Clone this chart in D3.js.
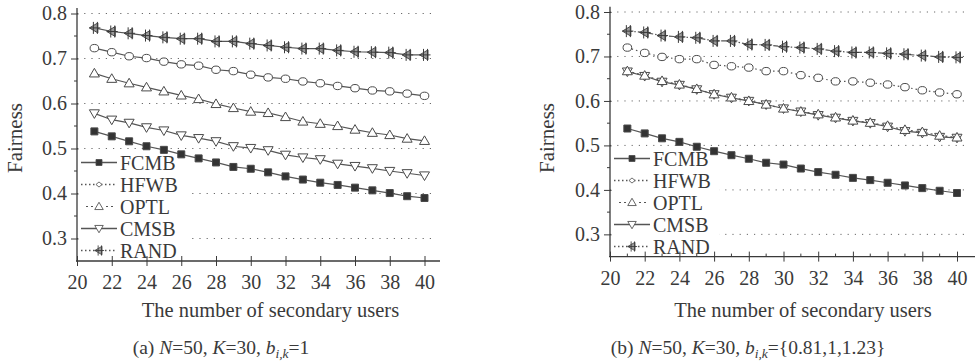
<!DOCTYPE html>
<html>
<head>
<meta charset="utf-8">
<script src="https://cdn.jsdelivr.net/npm/d3@7"></script>
<style>
  body { margin: 0; background: #fff; }
  svg { display: block; }
  text { font-family: "Liberation Serif", "Times New Roman", serif; fill: #3a3a3a; }
</style>
</head>
<body>
<svg id="chart" width="979" height="361"></svg>
<script>
// Number of secondary users on the horizontal axis
const users = [21, 22, 23, 24, 25, 26, 27, 28, 29, 30, 31, 32, 33, 34, 35, 36, 37, 38, 39, 40];
const xTickValues = [20, 22, 24, 26, 28, 30, 32, 34, 36, 38, 40];
const yTickValues = [0.3, 0.4, 0.5, 0.6, 0.7, 0.8];
const seriesNames = ["FCMB", "HFWB", "OPTL", "CMSB", "RAND"];

// (a) N=50, K=30, b_{i,k}=1
const fcmbA = [0.538, 0.527, 0.516, 0.505, 0.497, 0.487, 0.478, 0.469, 0.459, 0.455, 0.447, 0.438, 0.431, 0.424, 0.419, 0.413, 0.407, 0.401, 0.394, 0.390];
const hfwbA = [0.723, 0.714, 0.705, 0.701, 0.693, 0.687, 0.684, 0.675, 0.672, 0.664, 0.658, 0.655, 0.649, 0.645, 0.639, 0.634, 0.629, 0.627, 0.622, 0.617];
const optlA = [0.667, 0.655, 0.645, 0.636, 0.627, 0.618, 0.610, 0.599, 0.590, 0.582, 0.579, 0.570, 0.560, 0.555, 0.550, 0.542, 0.535, 0.530, 0.522, 0.517];
const cmsbA = [0.578, 0.564, 0.557, 0.547, 0.540, 0.529, 0.523, 0.516, 0.505, 0.501, 0.496, 0.486, 0.480, 0.476, 0.466, 0.461, 0.456, 0.450, 0.445, 0.440];
const randA = [0.768, 0.760, 0.756, 0.751, 0.747, 0.744, 0.744, 0.738, 0.738, 0.733, 0.729, 0.725, 0.722, 0.722, 0.718, 0.715, 0.714, 0.713, 0.708, 0.708];

// (b) N=50, K=30, b_{i,k}={0.81,1,1.23}
const fcmbB = [0.538, 0.527, 0.516, 0.508, 0.497, 0.487, 0.478, 0.470, 0.461, 0.457, 0.448, 0.440, 0.434, 0.427, 0.422, 0.416, 0.410, 0.404, 0.398, 0.393];
const hfwbB = [0.720, 0.708, 0.699, 0.694, 0.694, 0.681, 0.678, 0.675, 0.667, 0.667, 0.658, 0.652, 0.644, 0.644, 0.641, 0.637, 0.631, 0.624, 0.619, 0.615];
const optlB = [0.667, 0.657, 0.645, 0.637, 0.627, 0.615, 0.608, 0.600, 0.592, 0.583, 0.576, 0.570, 0.563, 0.556, 0.551, 0.544, 0.535, 0.530, 0.522, 0.518];
const cmsbB = [0.666, 0.656, 0.643, 0.636, 0.626, 0.615, 0.607, 0.600, 0.592, 0.583, 0.576, 0.568, 0.562, 0.555, 0.550, 0.542, 0.532, 0.528, 0.519, 0.517];
const randB = [0.757, 0.754, 0.747, 0.744, 0.742, 0.735, 0.735, 0.727, 0.726, 0.722, 0.720, 0.717, 0.712, 0.709, 0.709, 0.707, 0.705, 0.702, 0.699, 0.698];

const svg = d3.select("#chart");
svg.append("rect").attr("width", 979).attr("height", 361).attr("fill", "#fff");

const INK = "#3a3a3a";
const LINE = "#555";

// marker shapes, drawn around (0,0)
const markerPath = {
  FCMB: "M-3.5,-3.5H3.5V3.5H-3.5Z",
  HFWB: "M-4.3,0A4.3,3.7 0 1,0 4.3,0A4.3,3.7 0 1,0 -4.3,0Z",
  OPTL: "M0,-5L5,3.6H-5Z",
  CMSB: "M0,5L5,-3.6H-5Z",
  RAND: "M-5,0L3.5,-5V5Z"
};
const legendDiamond = "M0,-3.2L3.8,0L0,3.2L-3.8,0Z";

function drawMarker(g, name, cx, cy, scale, inLegend) {
  const m = g.append("g").attr("transform", `translate(${cx},${cy}) scale(${scale || 1})`);
  const d = (inLegend && name === "HFWB") ? legendDiamond : markerPath[name];
  const p = m.append("path").attr("d", d)
    .attr("stroke", "#4a4a4a").attr("stroke-width", 1);
  if (name === "FCMB") p.attr("fill", "#333");
  else if (name === "RAND") p.attr("fill", "#9a9a9a");
  else p.attr("fill", "#fff");
  if (name === "RAND") {
    m.append("path").attr("d", "M-1,-6V6M3,-6V6M-5,0H6")
      .attr("stroke", "#3a3a3a").attr("stroke-width", 1).attr("fill", "none");
  }
}

const panels = [
  {
    data: { FCMB: fcmbA, HFWB: hfwbA, OPTL: optlA, CMSB: cmsbA, RAND: randA },
    dash: { FCMB: null, HFWB: null, OPTL: null, CMSB: null, RAND: null },
    xRange: [77, 424.5], yRange: [261, 13.5], axisEnd: 440, gridEnd: 432,
    minorX: false,
    legendY: 162.5, legendW: 111, legendTop: 151,
    titleX: 270.5, yTitleX: 21.5, captionX: 221,
    caption: "a", values: "1"
  },
  {
    data: { FCMB: fcmbB, HFWB: hfwbB, OPTL: optlB, CMSB: cmsbB, RAND: randB },
    dash: { FCMB: null, HFWB: "1.5,3", OPTL: "2,3", CMSB: null, RAND: "5,2,1.5,2" },
    xRange: [610, 957], yRange: [256.6, 12], axisEnd: 975, gridEnd: 967,
    minorX: true,
    legendY: 158.5, legendW: 108, legendTop: 148,
    titleX: 803, yTitleX: 554, captionX: 748,
    caption: "b", values: "{0.81,1,1.23}"
  }
];

panels.forEach(P => {
  const x = d3.scaleLinear().domain([20, 40]).range(P.xRange);
  const y = d3.scaleLinear().domain([0.25, 0.8]).range(P.yRange);
  const g = svg.append("g");
  const x0 = x(20), yb = y(0.25);

  // dotted horizontal grid
  g.selectAll(".grid").data(yTickValues).join("line")
    .attr("x1", x0).attr("x2", P.gridEnd)
    .attr("y1", d => y(d)).attr("y2", d => y(d))
    .attr("stroke", "#6a6a6a").attr("stroke-width", 1)
    .attr("stroke-dasharray", "1.2,6");

  // legend background hides the grid behind the key
  g.append("rect").attr("x", x0 + 1.5).attr("y", P.legendTop)
    .attr("width", P.legendW).attr("height", yb - P.legendTop - 1.5).attr("fill", "#fff");

  // series lines and markers
  const line = d3.line().x((d, i) => x(users[i])).y(d => y(d));
  const order = ["FCMB", "CMSB", "OPTL", "HFWB", "RAND"];
  order.forEach(name => {
    g.append("path").datum(P.data[name]).attr("d", line)
      .attr("fill", "none").attr("stroke", LINE).attr("stroke-width", 1.2)
      .attr("stroke-dasharray", P.dash[name]);
  });
  order.forEach(name => {
    P.data[name].forEach((v, i) => drawMarker(g, name, x(users[i]), y(v), 1, false));
  });

  // axes
  const yAxis = d3.axisLeft(y).tickValues(yTickValues).tickSize(6).tickPadding(4)
    .tickFormat(d3.format(".1f"));
  const ya = g.append("g").attr("transform", `translate(${x0},0)`).call(yAxis);
  ya.select(".domain").remove();
  ya.selectAll("line").attr("stroke", INK).attr("x2", -6).attr("x1", 1.5);
  ya.selectAll("text").attr("font-size", 20).attr("fill", INK);
  g.selectAll(".ymin").data([0.35, 0.45, 0.55, 0.65, 0.75]).join("line")
    .attr("x1", x0 - 3).attr("x2", x0).attr("y1", d => y(d)).attr("y2", d => y(d))
    .attr("stroke", INK);
  g.append("line").attr("x1", x0).attr("x2", x0).attr("y1", y(0.812)).attr("y2", yb + 0.5)
    .attr("stroke", INK).attr("stroke-width", 1.3);

  const xAxis = d3.axisBottom(x).tickValues(xTickValues).tickSize(5).tickPadding(9)
    .tickFormat(d3.format("d"));
  const xa = g.append("g").attr("transform", `translate(0,${yb})`).call(xAxis);
  xa.select(".domain").remove();
  xa.selectAll("line").attr("stroke", INK).attr("y1", -5).attr("y2", 5);
  xa.selectAll("text").attr("font-size", 20).attr("fill", INK);
  if (P.minorX) {
    g.selectAll(".xmin").data(users.filter(u => u % 2 === 1)).join("line")
      .attr("x1", d => x(d)).attr("x2", d => x(d)).attr("y1", yb - 3).attr("y2", yb)
      .attr("stroke", INK);
  }
  g.append("line").attr("x1", x0 - 1).attr("x2", P.axisEnd).attr("y1", yb).attr("y2", yb)
    .attr("stroke", INK).attr("stroke-width", 1.3);

  // legend
  const lg = g.append("g");
  const legendDash = { FCMB: null, HFWB: "1.5,2.5", OPTL: "2,3", CMSB: null, RAND: "1.5,2.5" };
  seriesNames.forEach((name, i) => {
    const ly = P.legendY + i * 22;
    if (name === "OPTL") {
      lg.append("line").attr("x1", x0 + 9).attr("x2", x0 + 16).attr("y1", ly).attr("y2", ly)
        .attr("stroke", LINE).attr("stroke-dasharray", "2,3");
      lg.append("line").attr("x1", x0 + 29).attr("x2", x0 + 36).attr("y1", ly).attr("y2", ly)
        .attr("stroke", LINE).attr("stroke-dasharray", "2,3");
    } else {
      lg.append("line").attr("x1", x0 + 4).attr("x2", x0 + 40).attr("y1", ly).attr("y2", ly)
        .attr("stroke", LINE).attr("stroke-width", 1.3).attr("stroke-dasharray", legendDash[name]);
    }
    drawMarker(lg, name, x0 + 22, ly, name === "HFWB" ? 0.8 : 0.85, true);
    lg.append("text").attr("x", x0 + 43).attr("y", ly + 7)
      .attr("font-size", 20).text(name);
  });

  // axis titles
  g.append("text").attr("x", P.titleX).attr("y", 317).attr("text-anchor", "middle")
    .attr("font-size", 20.5).text("The number of secondary users");
  g.append("text").attr("transform", `translate(${P.yTitleX},138) rotate(-90)`)
    .attr("text-anchor", "middle").attr("font-size", 21).text("Fairness");

  // caption
  const cap = g.append("text").attr("x", P.captionX).attr("y", 354)
    .attr("text-anchor", "middle").attr("font-size", 19.5);
  cap.append("tspan").text(`(${P.caption}) `);
  cap.append("tspan").attr("font-style", "italic").text("N");
  cap.append("tspan").text("=50, ");
  cap.append("tspan").attr("font-style", "italic").text("K");
  cap.append("tspan").text("=30, ");
  cap.append("tspan").attr("font-style", "italic").text("b");
  cap.append("tspan").attr("font-style", "italic").attr("font-size", 13.5).attr("dy", 4).text("i,k");
  cap.append("tspan").attr("dy", -4).text("=" + P.values);
});
</script>
</body>
</html>
